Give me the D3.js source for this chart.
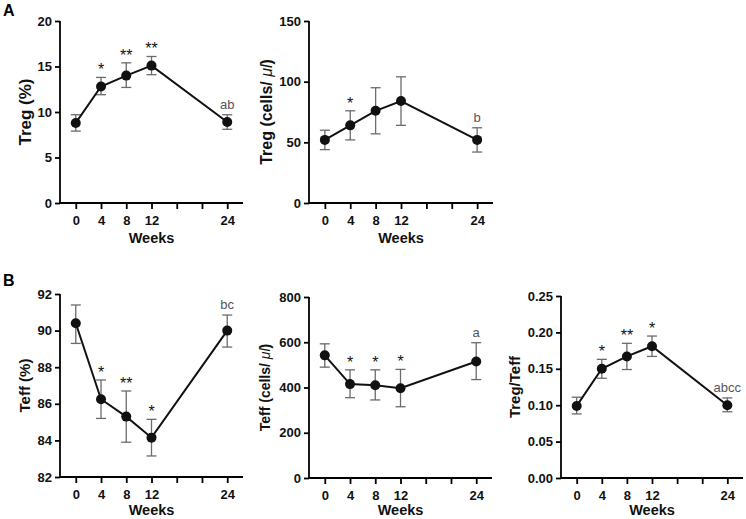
<!DOCTYPE html>
<html>
  <head>
    <meta charset="utf-8">
    <script src="https://d3js.org/d3.v7.min.js"></script>
    <style>
      body { margin: 0; background: #fff; }
      svg { font-family: 'Liberation Sans', Arial, Helvetica, sans-serif; }
    </style>
  </head>
  <body>
    <svg></svg>
    <script>
      var width = 746, height = 519;

      // weeks sampled
      var weeks = [0, 4, 8, 12, 24];
      var weekTicks = [0, 4, 8, 12, 16, 20, 24];
      var weekLabels = [0, 4, 8, 12, 24];

      // A: Treg (%)
      var tregPct = [8.8, 12.8, 14.0, 15.1, 8.9];
      var tregPctLo = [7.9, 11.9, 12.7, 14.1, 8.1];
      var tregPctHi = [9.7, 13.8, 15.4, 16.1, 9.7];
      var tregPctSig = ['', '*', '**', '**', 'ab'];

      // A: Treg (cells/ul)
      var tregAbs = [52, 64, 76, 84, 52];
      var tregAbsLo = [44, 52, 57, 64, 42];
      var tregAbsHi = [60, 76, 95, 104, 62];
      var tregAbsSig = ['', '*', '', '', 'b'];

      // B: Teff (%)
      var teffPct = [90.4, 86.25, 85.3, 84.15, 90.0];
      var teffPctLo = [89.3, 85.2, 83.9, 83.15, 89.1];
      var teffPctHi = [91.4, 87.3, 86.7, 85.15, 90.85];
      var teffPctSig = ['', '*', '**', '*', 'bc'];

      // B: Teff (cells/ul)
      var teffAbs = [542, 415, 410, 397, 515];
      var teffAbsLo = [490, 355, 345, 315, 435];
      var teffAbsHi = [593, 478, 478, 480, 598];
      var teffAbsSig = ['', '*', '*', '*', 'a'];

      // B: Treg/Teff
      var ratio = [0.099, 0.150, 0.167, 0.181, 0.100];
      var ratioLo = [0.088, 0.137, 0.149, 0.167, 0.091];
      var ratioHi = [0.111, 0.163, 0.185, 0.195, 0.110];
      var ratioSig = ['', '*', '**', '*', 'abcc'];

      var svg = d3.select('svg')
        .attr('width', width)
        .attr('height', height);

      function panel(p) {
        var x = d3.scaleLinear().domain([-2.5, 26.5]).range([p.x0, p.x1]);
        var y = d3.scaleLinear().domain(p.yDomain).range([p.y1, p.y0]);
        var g = svg.append('g');

        // x axis
        var xAxis = d3.axisBottom(x)
          .tickValues(weekTicks)
          .tickSize(6)
          .tickPadding(7)
          .tickFormat(function (d) { return weekLabels.indexOf(d) >= 0 ? d : ''; });
        var gx = g.append('g')
          .attr('transform', 'translate(0,' + p.y1 + ')')
          .call(xAxis);
        gx.select('.domain').attr('d', 'M' + p.x0 + ',0H' + p.x1);

        // y axis
        var yAxis = d3.axisLeft(y)
          .tickValues(p.yTicks)
          .tickSize(5)
          .tickPadding(3)
          .tickFormat(p.fmt || d3.format('d'));
        var gy = g.append('g')
          .attr('transform', 'translate(' + p.x0 + ',0)')
          .call(yAxis);
        gy.select('.domain').attr('d', 'M0,' + p.y0 + 'V' + p.y1);

        g.selectAll('.domain, .tick line')
          .attr('stroke', '#000')
          .attr('stroke-width', 1.8);
        g.selectAll('.tick text')
          .attr('fill', '#111')
          .style('font-size', '13px')
          .style('font-weight', 'bold');

        // y label
        var lab = g.append('text')
          .attr('transform', 'translate(' + p.labX + ',' + ((p.y0 + p.y1) / 2) + ')rotate(-90)')
          .attr('text-anchor', 'middle')
          .attr('dy', '0.35em')
          .attr('fill', '#111')
          .style('font-size', p.labSize + 'px')
          .style('font-weight', 'bold');
        lab.append('tspan').text(p.label);
        if (p.unit) {
          lab.append('tspan').text('μl').style('font-style', 'italic').style('font-weight', 'normal');
          lab.append('tspan').text(')');
        }

        // x label
        g.append('text')
          .attr('x', x(12))
          .attr('y', Math.min(p.y1 + 40, 515))
          .attr('text-anchor', 'middle')
          .attr('fill', '#111')
          .style('font-size', '14.5px')
          .style('font-weight', 'bold')
          .text('Weeks');

        var pts = weeks.map(function (w, i) {
          return { w: w, v: p.values[i], lo: p.lo[i], hi: p.hi[i], sig: p.sig[i] };
        });

        // error bars
        var eb = g.selectAll('.eb').data(pts).enter().append('g')
          .attr('stroke', '#6b6b6b')
          .attr('stroke-width', 1.3);
        eb.append('line')
          .attr('x1', function (d) { return x(d.w); })
          .attr('x2', function (d) { return x(d.w); })
          .attr('y1', function (d) { return y(d.lo); })
          .attr('y2', function (d) { return y(d.hi); });
        eb.append('line')
          .attr('x1', function (d) { return x(d.w) - 5; })
          .attr('x2', function (d) { return x(d.w) + 5; })
          .attr('y1', function (d) { return y(d.lo); })
          .attr('y2', function (d) { return y(d.lo); });
        eb.append('line')
          .attr('x1', function (d) { return x(d.w) - 5; })
          .attr('x2', function (d) { return x(d.w) + 5; })
          .attr('y1', function (d) { return y(d.hi); })
          .attr('y2', function (d) { return y(d.hi); });

        // line
        var line = d3.line()
          .x(function (d) { return x(d.w); })
          .y(function (d) { return y(d.v); });
        g.append('path')
          .datum(pts)
          .attr('d', line)
          .attr('fill', 'none')
          .attr('stroke', '#111')
          .attr('stroke-width', 2);

        // points
        g.selectAll('.pt').data(pts).enter().append('circle')
          .attr('cx', function (d) { return x(d.w); })
          .attr('cy', function (d) { return y(d.v); })
          .attr('r', 5)
          .attr('fill', '#111');

        // significance marks
        g.selectAll('.sig').data(pts.filter(function (d) { return d.sig; })).enter().append('text')
          .attr('x', function (d) { return x(d.w); })
          .attr('y', function (d) { return y(d.hi) - (d.sig[0] === '*' ? 2 : 6); })
          .attr('text-anchor', 'middle')
          .attr('fill', function (d) { return d.sig[0] === '*' ? '#111' : '#555'; })
          .style('font-size', function (d) { return d.sig[0] === '*' ? '16px' : '13px'; })
          .style('font-weight', 'normal')
          .text(function (d) { return d.sig; });
      }

      panel({ x0: 60, x1: 243, y0: 21, y1: 203, yDomain: [0, 20], yTicks: [0, 5, 10, 15, 20],
        label: 'Treg (%)', labX: 25, labSize: 17,
        values: tregPct, lo: tregPctLo, hi: tregPctHi, sig: tregPctSig });

      panel({ x0: 309, x1: 493, y0: 21, y1: 203, yDomain: [0, 150], yTicks: [0, 50, 100, 150],
        label: 'Treg (cells/ ', unit: true, labX: 266, labSize: 16,
        values: tregAbs, lo: tregAbsLo, hi: tregAbsHi, sig: tregAbsSig });

      panel({ x0: 60, x1: 243, y0: 294, y1: 477, yDomain: [82, 92], yTicks: [82, 84, 86, 88, 90, 92],
        label: 'Teff (%)', labX: 25, labSize: 15,
        values: teffPct, lo: teffPctLo, hi: teffPctHi, sig: teffPctSig });

      panel({ x0: 309, x1: 492, y0: 297, y1: 478, yDomain: [0, 800], yTicks: [0, 200, 400, 600, 800],
        label: 'Teff (cells/ ', unit: true, labX: 265, labSize: 14,
        values: teffAbs, lo: teffAbsLo, hi: teffAbsHi, sig: teffAbsSig });

      panel({ x0: 561, x1: 743, y0: 296, y1: 478, yDomain: [0, 0.25], yTicks: [0, 0.05, 0.1, 0.15, 0.2, 0.25],
        fmt: d3.format('.2f'),
        label: 'Treg/Teff', labX: 515, labSize: 15,
        values: ratio, lo: ratioLo, hi: ratioHi, sig: ratioSig });

      // panel letters
      svg.append('text').attr('x', 3).attr('y', 16)
        .style('font-size', '16px').style('font-weight', 'bold').text('A');
      svg.append('text').attr('x', 3).attr('y', 286)
        .style('font-size', '16px').style('font-weight', 'bold').text('B');
    </script>
  </body>
</html>
